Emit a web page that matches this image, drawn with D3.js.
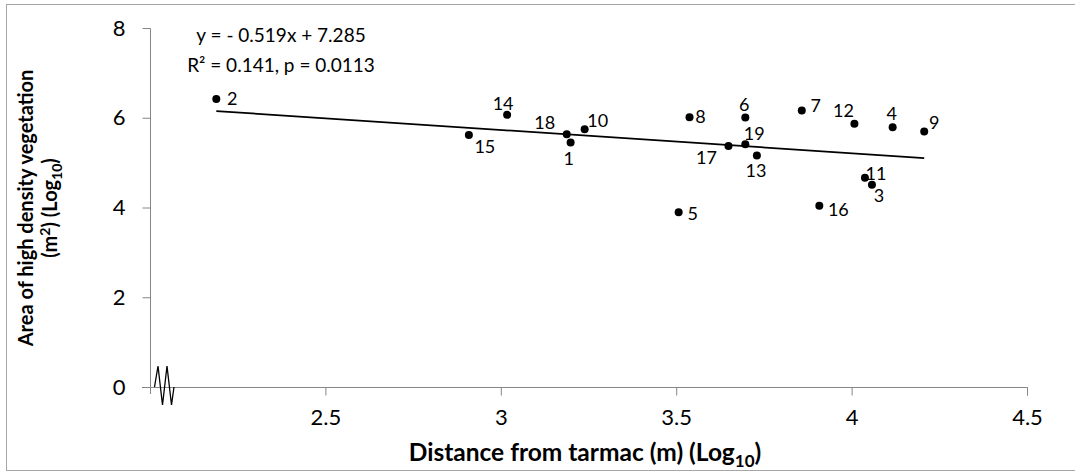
<!DOCTYPE html>
<html>
<head>
<meta charset="utf-8">
<script src="https://cdn.jsdelivr.net/npm/d3@7"></script>
<style>
  html, body { margin: 0; padding: 0; background: #fff; }
  svg { display: block; font-family: Lato, "Open Sans", sans-serif; }
</style>
</head>
<body>
<svg id="chart" width="1075" height="474"></svg>
<script>
// ---------- DATA ----------
const siteIds   = [1, 2, 3, 4, 5, 6, 7, 8, 9, 10, 11, 12, 13, 14, 15, 16, 17, 18, 19];
const distLog   = [3.199, 2.189, 4.058, 4.117, 3.507, 3.697, 3.858, 3.538, 4.207, 3.239,
                   4.038, 4.008, 3.730, 3.018, 2.909, 3.908, 3.649, 3.188, 3.697];
const areaLog   = [5.446, 6.420, 4.509, 5.790, 3.893, 6.004, 6.161, 6.013, 5.692, 5.745,
                   4.665, 5.864, 5.156, 6.065, 5.618, 4.040, 5.373, 5.634, 5.411];
const xTicks    = [2.5, 3, 3.5, 4, 4.5];
const yTicks    = [0, 2, 4, 6, 8];
const trendSlope = -0.519;
const trendIntercept = 7.285;
const equationLines = ["y = - 0.519x + 7.285", "R² = 0.141, p = 0.0113"];

// ---------- LAYOUT / STYLE ----------
// label offsets (dx, dy) of each data label from its point, in px
const labelOffsets = [[-2,15],[16,-1],[7,10],[-1,-14],[14,1],[-1,-14],[14,-6],[11,-1],[10,-10],[13,-9],
                      [11,-5],[-11,-14],[-1,14],[-4,-12],[16,11],[19,3],[-22,11],[-22,-12],[9,-11]];
const axisColor = "#868686";

const svg = d3.select("#chart");

// outer border
svg.append("rect").attr("x", 6.5).attr("y", 4.5).attr("width", 1080).attr("height", 466)
  .attr("fill", "none").attr("stroke", "#a6a6a6").attr("stroke-width", 1);

const x = d3.scaleLinear().domain([2, 4.5]).range([150, 1027]);
const y = d3.scaleLinear().domain([0, 8]).range([387, 28]);

// y axis
const yAxis = svg.append("g").attr("transform", "translate(150.5,0)")
  .call(d3.axisLeft(y).tickValues(yTicks).tickSize(8).tickPadding(17).tickFormat(d3.format("d")));
yAxis.select(".domain").attr("stroke", axisColor).attr("d", `M0,${y(8)+0.5}H0V${y(0)+7}`);
yAxis.selectAll(".tick line").attr("stroke", axisColor);
yAxis.selectAll(".tick text").attr("fill", "#000").style("font-size", "22px").style("font-family", "Lato");

// x axis
const xAxis = svg.append("g").attr("transform", `translate(0,${y(0)+0.5})`)
  .call(d3.axisBottom(x).tickValues(xTicks).tickSize(8).tickPadding(14).tickFormat(d => String(d)));
xAxis.select(".domain").attr("stroke", axisColor).attr("d", `M142,0H${x(4.5)+0.5}V8`);
xAxis.selectAll(".tick line").attr("stroke", axisColor);
xAxis.selectAll(".tick text").attr("fill", "#000").style("font-size", "22px").style("font-family", "Lato");

// axis break symbol
svg.append("path")
  .attr("d", d3.line()([[154.5, 387], [158, 366], [162.5, 405], [167, 366], [171.5, 405], [174, 387]]))
  .attr("fill", "none").attr("stroke", "#000").attr("stroke-width", 1.3);

// trend line
const xMin = d3.min(distLog), xMax = d3.max(distLog);
svg.append("line")
  .attr("x1", x(xMin)).attr("y1", y(trendSlope * xMin + trendIntercept))
  .attr("x2", x(xMax)).attr("y2", y(trendSlope * xMax + trendIntercept))
  .attr("stroke", "#000").attr("stroke-width", 1.8);

// points
const pts = siteIds.map((id, i) => ({ id, xv: distLog[i], yv: areaLog[i], off: labelOffsets[i] }));
svg.append("g").selectAll("circle").data(pts).join("circle")
  .attr("cx", d => x(d.xv)).attr("cy", d => y(d.yv)).attr("r", 4).attr("fill", "#000");

svg.append("g").selectAll("text").data(pts).join("text")
  .attr("x", d => x(d.xv) + d.off[0]).attr("y", d => y(d.yv) + d.off[1])
  .attr("text-anchor", "middle").attr("dominant-baseline", "central")
  .style("font-size", "18px").attr("fill", "#000").text(d => d.id);

// equation
svg.append("g").selectAll("text").data(equationLines).join("text")
  .attr("x", 281).attr("y", (d, i) => 42 + i * 30)
  .attr("text-anchor", "middle").style("font-size", "19px").attr("fill", "#000")
  .text(d => d);

// x axis title
const xt = svg.append("text").attr("x", 585).attr("y", 461).attr("text-anchor", "middle")
  .style("font-size", "24.5px").style("font-weight", "bold").attr("fill", "#000");
xt.append("tspan").text("Distance from tarmac (m) (Log");
xt.append("tspan").attr("dy", 6).style("font-size", "17px").text("10");
xt.append("tspan").attr("dy", -6).text(")");

// y axis title
const yt = svg.append("g").attr("transform", "translate(0,208) rotate(-90)");
yt.append("text").attr("x", 0).attr("y", 33).attr("text-anchor", "middle")
  .style("font-size", "20px").style("font-weight", "bold").attr("fill", "#000")
  .text("Area of high density vegetation");
const yt2 = yt.append("text").attr("x", 0).attr("y", 57).attr("text-anchor", "middle")
  .style("font-size", "20px").style("font-weight", "bold").attr("fill", "#000");
yt2.append("tspan").text("(m");
yt2.append("tspan").attr("dy", -7).style("font-size", "14px").text("2");
yt2.append("tspan").attr("dy", 7).text(") (Log");
yt2.append("tspan").attr("dy", 5).style("font-size", "14px").text("10");
yt2.append("tspan").attr("dy", -5).text(")");
</script>
</body>
</html>
